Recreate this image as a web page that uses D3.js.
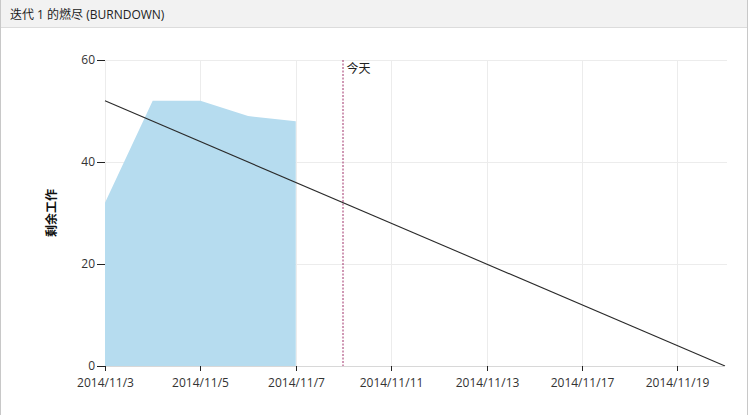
<!DOCTYPE html>
<html><head><meta charset="utf-8">
<script src="https://cdn.jsdelivr.net/npm/d3@7"></script>
<style>
html,body{margin:0;padding:0;background:#fff;}
body{width:750px;height:415px;overflow:hidden;font-family:"Open Sans","Noto Sans CJK SC",sans-serif;}
#wrap{position:absolute;left:0;top:0;width:746px;height:415px;border-left:1px solid #c8c8c8;border-right:1px solid #c8c8c8;box-sizing:content-box;}
#hdr{height:28px;background:#f2f2f2;border-bottom:1px solid #dcdcdc;font-size:12px;line-height:30px;padding-left:9px;color:#222;box-sizing:border-box;}
svg{position:absolute;left:0;top:0;}
</style></head>
<body>
<div id="wrap"><div id="hdr">迭代 1 的燃尽 (BURNDOWN)</div></div>
<script>
const title = "迭代 1 的燃尽 (BURNDOWN)";
const days = ["2014/11/3","2014/11/4","2014/11/5","2014/11/6","2014/11/7","2014/11/10","2014/11/11","2014/11/12","2014/11/13","2014/11/14","2014/11/17","2014/11/18","2014/11/19","2014/11/20"];
const remaining = [32, 52, 52, 49, 48];
const idealStart = 52, idealEnd = 0;
const tickLabels = ["2014/11/3","2014/11/5","2014/11/7","2014/11/11","2014/11/13","2014/11/17","2014/11/19"];
const yTicks = [0, 20, 40, 60];
const today = "2014/11/10";
const todayLabel = "今天";
const yLabel = "剩余工作";

const W = 750, H = 415;
const m = {left:105, right:25, top:60, bottom:49};
const svg = d3.select("body").append("svg").attr("width", W).attr("height", H);
const x = d3.scalePoint().domain(days).range([m.left, W - m.right]);
const y = d3.scaleLinear().domain([0, 60]).range([H - m.bottom, m.top]);
const px = v => Math.round(v) + 0.5;

// grid
const g = svg.append("g");
g.selectAll(".hg").data(yTicks.filter(d=>d>0)).join("line")
  .attr("x1", m.left).attr("x2", W - m.right + 2).attr("y1", d=>px(y(d))).attr("y2", d=>px(y(d)))
  .attr("stroke", "#ececec");
g.selectAll(".vg").data(tickLabels).join("line")
  .attr("x1", d=>px(x(d))).attr("x2", d=>px(x(d))).attr("y1", y(0)).attr("y2", y(60))
  .attr("stroke", "#ececec");

// area
const data = remaining.map((v,i)=>({d:days[i], v}));
svg.append("path").datum(data)
  .attr("fill", "#b6dcef")
  .attr("d", d3.area().x(d=>x(d.d)).y0(y(0)).y1(d=>y(d.v)));

// today line
svg.append("line").attr("x1", Math.round(x(today))).attr("x2", Math.round(x(today))).attr("y1", y(60)).attr("y2", y(0))
  .attr("stroke", "#a0306a").attr("stroke-width", 1).attr("stroke-dasharray", "2,1.5");
svg.append("text").attr("x", x(today) + 3).attr("y", y(60) + 13).text(todayLabel)
  .attr("font-size", 12).attr("fill", "#222");

// ideal line
svg.append("line").attr("x1", x(days[0])).attr("y1", y(idealStart))
  .attr("x2", x(days[days.length-1])).attr("y2", y(idealEnd))
  .attr("stroke", "#2a2a2a").attr("stroke-width", 1.1);

// x axis
const xa = svg.append("g").attr("transform", `translate(0,${y(0)})`)
  .call(d3.axisBottom(x).tickValues(tickLabels).tickSize(5).tickSizeOuter(0));
xa.select(".domain").attr("stroke", "#d8d8d8").attr("d", `M${m.left},0.5H${W - m.right}`);
xa.selectAll(".tick").attr("transform", d => `translate(${px(x(d))},0)`);
xa.selectAll(".tick line").attr("stroke", "#222");
xa.selectAll(".tick text").attr("font-size", 12).attr("fill", "#333").attr("dy", "1.1em")
  .attr("font-family", "'Open Sans', sans-serif");
xa.append("line").attr("x1", m.left + 0.5).attr("x2", m.left + 0.5).attr("y1", 0).attr("y2", 5).attr("stroke", "#222");

// y axis
const ya = svg.append("g").attr("transform", `translate(${m.left},0)`)
  .call(d3.axisLeft(y).tickValues(yTicks).tickSize(8));
ya.select(".domain").remove();
ya.selectAll(".tick line").attr("stroke", "#222");
ya.selectAll(".tick text").attr("font-size", 12).attr("fill", "#333").attr("x", -10)
  .attr("font-family", "'Open Sans', sans-serif");

svg.append("text").attr("transform", `translate(56,${(y(0)+y(60))/2}) rotate(-90)`)
  .attr("text-anchor", "middle").attr("font-size", 12).attr("font-weight", "bold")
  .attr("font-family", "'Noto Sans CJK SC', sans-serif").attr("fill", "#111").text(yLabel);
</script>
</body></html>
